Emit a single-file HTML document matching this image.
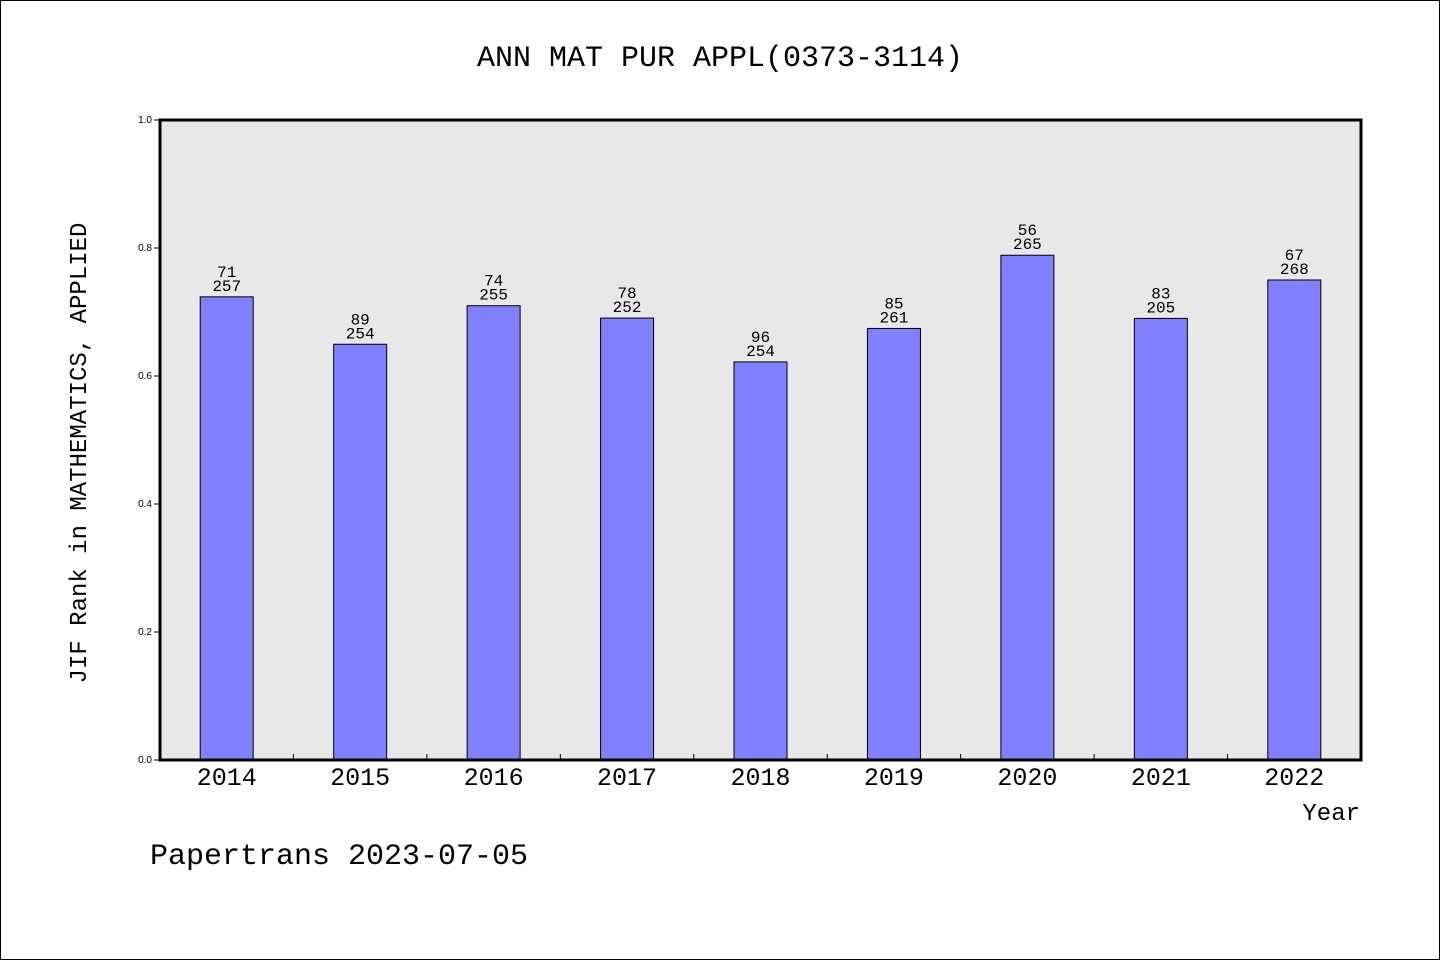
<!DOCTYPE html>
<html><head><meta charset="utf-8"><style>
body{margin:0;background:#fff}
svg text{font-family:"Liberation Mono","DejaVu Sans Mono",monospace}
svg text.sans{font-family:"Liberation Sans",sans-serif}
</style></head><body>
<svg width="1440" height="960" xmlns="http://www.w3.org/2000/svg">
<rect x="0.5" y="0.5" width="1439" height="959" fill="#fff" stroke="#000"/>
<text x="720" y="66" font-size="30" text-anchor="middle">ANN MAT PUR APPL(0373-3114)</text>
<rect x="160" y="120" width="1201" height="640" fill="#e8e8e8"/>
<g id="g"></g>
<rect x="160" y="120" width="1201" height="640" fill="none" stroke="#000" stroke-width="3"/>
<text x="86" y="453" font-size="24" text-anchor="middle" transform="rotate(-90 86 453)">JIF Rank in MATHEMATICS, APPLIED</text>
<text x="1360" y="820" font-size="24" text-anchor="end">Year</text>
<text x="150" y="864" font-size="30">Papertrans 2023-07-05</text>
</svg>
<script>
const categories=["2014","2015","2016","2017","2018","2019","2020","2021","2022"];
const ranks=[71,89,74,78,96,85,56,83,67];
const totals=[257,254,255,252,254,261,265,205,268];
const values=[0.7237,0.6496,0.7098,0.6905,0.6220,0.6743,0.7887,0.690,0.7500];
const yTicks=[0,0.2,0.4,0.6,0.8,1.0];
const X0=160,X1=1361,Y0=760,Y1=120;
const slot=(X1-X0)/categories.length;
const xs=i=>X0+slot*(i+0.5);
const ys=v=>Y0-(v)*(Y0-Y1);
const g=document.getElementById('g');
const NS='http://www.w3.org/2000/svg';
function mk(t,a){const e=document.createElementNS(NS,t);for(const k in a)e.setAttribute(k,a[k]);g.appendChild(e);return e;}
yTicks.forEach(t=>{
 const l=mk('line',{x1:X0-6,x2:X0,y1:ys(t),y2:ys(t),stroke:'#000'});
 
 
 const tx=mk('text',{x:X0-8,y:ys(t)+3,'font-size':10,'text-anchor':'end','class':'sans'});
 tx.textContent=t.toFixed(1);
 
 
});
categories.forEach((c,i)=>{
 const bw=53,x=xs(i)-bw/2,y=ys(values[i]);
 const r=mk('rect',{x:x,y:y,width:bw,height:Y0-y,fill:'#8080ff',stroke:'#000','stroke-width':1});
 
 
 const t1=mk('text',{x:xs(i),y:y-20,'font-size':16,'text-anchor':'middle'});t1.textContent=ranks[i];
 
 
 const t2=mk('text',{x:xs(i),y:y-6,'font-size':16,'text-anchor':'middle'});t2.textContent=totals[i];
 
 
 const xl=mk('text',{x:xs(i),y:785,'font-size':25,'text-anchor':'middle'});xl.textContent=c;
 
 
 if(i>0){const tk=mk('line',{x1:X0+slot*i,x2:X0+slot*i,y1:Y0,y2:Y0-6,stroke:'#000'});
 
 }
});
</script>
</body></html>
